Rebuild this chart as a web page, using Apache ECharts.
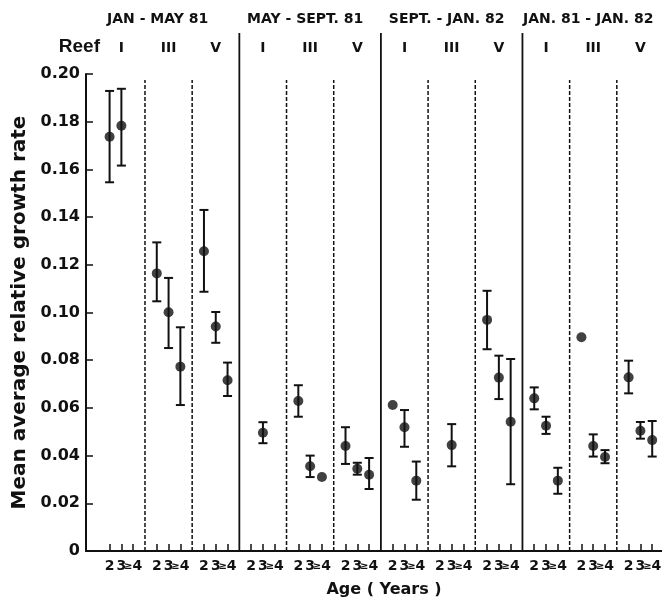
<!DOCTYPE html>
<html>
<head>
<meta charset="utf-8">
<script src="https://cdn.jsdelivr.net/npm/echarts@6/dist/echarts.min.js"></script>
<style>
  html, body { margin: 0; padding: 0; background: #fff; }
  #growth-chart { width: 662px; height: 599px; }
</style>
</head>
<body>
<div id="growth-chart"></div>
<script>
// ------------------- //
// Data
// ------------------- //
const periods = ["JAN - MAY 81", "MAY - SEPT. 81", "SEPT. - JAN. 82", "JAN. 81 - JAN. 82"];
const reefs = ["I", "III", "V"];
const ages = ["2", "3", "≥4"];

// order in each array: I(2,3,>=4), III(2,3,>=4), V(2,3,>=4)
const meanJanMay81 = [0.1737, 0.1783, null, 0.1164, 0.1001, 0.0773, 0.1257, 0.0941, 0.0716];
const lowJanMay81  = [0.1546, 0.1616, null, 0.1047, 0.0851, 0.0612, 0.1087, 0.0873, 0.0650];
const highJanMay81 = [0.1929, 0.1938, null, 0.1294, 0.1145, 0.0938, 0.1430, 0.1002, 0.0790];

const meanMaySep81 = [null, 0.0496, null, 0.0629, 0.0355, 0.0310, 0.0440, 0.0345, 0.0320];
const lowMaySep81  = [null, 0.0452, null, 0.0563, 0.0310, null, 0.0365, 0.0320, 0.0260];
const highMaySep81 = [null, 0.0540, null, 0.0695, 0.0400, null, 0.0519, 0.0370, 0.0390];

const meanSepJan82 = [0.0612, 0.0519, 0.0295, null, 0.0444, null, 0.0969, 0.0727, 0.0542];
const lowSepJan82  = [null, 0.0437, 0.0215, null, 0.0355, null, 0.0846, 0.0637, 0.0280];
const highSepJan82 = [null, 0.0591, 0.0375, null, 0.0532, null, 0.1091, 0.0819, 0.0805];

const meanJan81Jan82 = [0.0640, 0.0525, 0.0295, 0.0896, 0.0440, 0.0394, 0.0728, 0.0504, 0.0465];
const lowJan81Jan82  = [0.0594, 0.0491, 0.0240, null, 0.0396, 0.0368, 0.0661, 0.0471, 0.0396];
const highJan81Jan82 = [0.0686, 0.0563, 0.0349, null, 0.0489, 0.0423, 0.0798, 0.0541, 0.0545];

const yTicks = [0, 0.02, 0.04, 0.06, 0.08, 0.10, 0.12, 0.14, 0.16, 0.18, 0.20];

const means = [meanJanMay81, meanMaySep81, meanSepJan82, meanJan81Jan82];
const lows = [lowJanMay81, lowMaySep81, lowSepJan82, lowJan81Jan82];
const highs = [highJanMay81, highMaySep81, highSepJan82, highJan81Jan82];

// ------------------- //
// Build category slots: one lead slot, then 4 slots per reef group (edge, 2, 3, >=4), plus a closing edge
// ------------------- //
const nGroups = periods.length * reefs.length;
let ageLabels = [""];
let reefLabels = [""];
for (let g = 0; g < nGroups; g++) {
    ageLabels.push("", ...ages);
    reefLabels.push("", "", reefs[g % 3], "");
}
ageLabels.push("");
reefLabels.push("");

// points and error bars
let points = [];
let errorBars = [];
for (let p = 0; p < periods.length; p++) {
    for (let r = 0; r < reefs.length; r++) {
        for (let a = 0; a < ages.length; a++) {
            const k = r * 3 + a;
            const idx = 12 * p + 4 * r + a + 2;
            if (means[p][k] !== null) points.push([idx, means[p][k]]);
            if (lows[p][k] !== null) errorBars.push([idx, lows[p][k], highs[p][k]]);
        }
    }
}

// vertical separators between reef groups (dashed) and between periods (solid)
let separatorSeries = [];
for (let g = 1; g <= nGroups; g++) {
    const idx = 1 + 4 * g;
    const solid = g % 3 === 0;
    separatorSeries.push({
        type: "line",
        silent: true,
        clip: false,
        symbol: "none",
        lineStyle: { color: "#111", width: solid ? 1.8 : 1.5, type: solid ? "solid" : [4, 2] },
        data: [[idx, 0], [idx, solid ? 0.2172 : 0.1975]],
        z: 1
    });
}

const ink = "#111";
const font = "DejaVu Sans";

const chartEl = document.getElementById("growth-chart");
const chart = echarts.init(chartEl);

let option = {
    animation: false,
    backgroundColor: "#fff",
    grid: { left: 86, top: 74, width: 578, height: 477, outerBoundsMode: "none", containLabel: false },
    xAxis: [
        {
            type: "category",
            data: ageLabels,
            boundaryGap: false,
            axisLine: { lineStyle: { color: ink, width: 2 } },
            axisTick: {
                inside: true, length: 7,
                interval: (i) => ageLabels[i] !== "",
                lineStyle: { color: ink, width: 1.5 }
            },
            axisLabel: {
                interval: 0, margin: 8, color: ink,
                fontFamily: font, fontWeight: "bold", fontSize: 14,
                formatter: (v) => v === "≥4" ? "{s|≥}4" : v,
                rich: { s: { fontSize: 10, fontFamily: font, fontWeight: "bold", color: ink } }
            },
            splitLine: { show: false },
            name: "Age ( Years )",
            nameLocation: "middle",
            nameGap: 31,
            nameTextStyle: { color: ink, fontFamily: font, fontWeight: "bold", fontSize: 16, padding: [0, 0, 0, 18] }
        },
        {
            type: "category",
            position: "top",
            data: reefLabels,
            boundaryGap: false,
            axisLine: { show: false },
            axisTick: { show: false },
            axisLabel: {
                interval: 0, margin: 19, color: ink,
                fontFamily: font, fontWeight: "bold", fontSize: 14
            },
            splitLine: { show: false }
        }
    ],
    yAxis: {
        type: "value",
        min: 0, max: 0.2, interval: 0.02,
        axisLine: { show: true, lineStyle: { color: ink, width: 2 } },
        axisTick: { show: true, inside: true, length: 7, lineStyle: { color: ink, width: 1.5 } },
        axisLabel: {
            margin: 6, color: ink, fontFamily: font, fontWeight: "bold", fontSize: 16,
            formatter: (v) => {
                const t = yTicks.find(x => Math.abs(x - v) < 1e-9);
                return t === 0 ? "0" : (t !== undefined ? t.toFixed(2) : "");
            }
        },
        splitLine: { show: false },
        name: "Mean average relative growth rate",
        nameLocation: "middle",
        nameGap: 56,
        nameTextStyle: { color: ink, fontFamily: font, fontWeight: "bold", fontSize: 20 }
    },
    series: [
        ...separatorSeries,
        {
            type: "custom",
            name: "error",
            silent: true,
            renderItem: function (params, api) {
                const lo = api.coord([api.value(0), api.value(1)]);
                const hi = api.coord([api.value(0), api.value(2)]);
                const half = 4.5;
                const style = { stroke: ink, lineWidth: 2 };
                return {
                    type: "group",
                    children: [
                        { type: "line", shape: { x1: lo[0], y1: lo[1], x2: hi[0], y2: hi[1] }, style: style },
                        { type: "line", shape: { x1: lo[0] - half, y1: lo[1], x2: lo[0] + half, y2: lo[1] }, style: style },
                        { type: "line", shape: { x1: hi[0] - half, y1: hi[1], x2: hi[0] + half, y2: hi[1] }, style: style }
                    ]
                };
            },
            encode: { x: 0, y: [1, 2] },
            data: errorBars,
            z: 3
        },
        {
            type: "scatter",
            name: "mean",
            symbol: "circle",
            symbolSize: 10,
            itemStyle: { color: ink },
            data: points,
            z: 4
        }
    ]
};

chart.setOption(option);

// Period titles and "Reef" label placed using the axis scale
const px = (i) => chart.convertToPixel({ xAxisIndex: 0 }, i);
let graphics = [{
    type: "text", x: 100, y: 47,
    style: { text: "Reef", font: "bold 19px Liberation Sans", fill: ink, align: "right", verticalAlign: "middle" }
}];
for (let p = 0; p < periods.length; p++) {
    const left = p === 0 ? px(0) : px(1 + 12 * p);
    const right = px(1 + 12 * (p + 1));
    graphics.push({
        type: "text", x: (left + right) / 2 - 5, y: 19,
        style: { text: periods[p], font: "bold 14px DejaVu Sans", fill: ink, align: "center", verticalAlign: "middle" }
    });
}
chart.setOption({ graphic: graphics });
</script>
</body>
</html>
